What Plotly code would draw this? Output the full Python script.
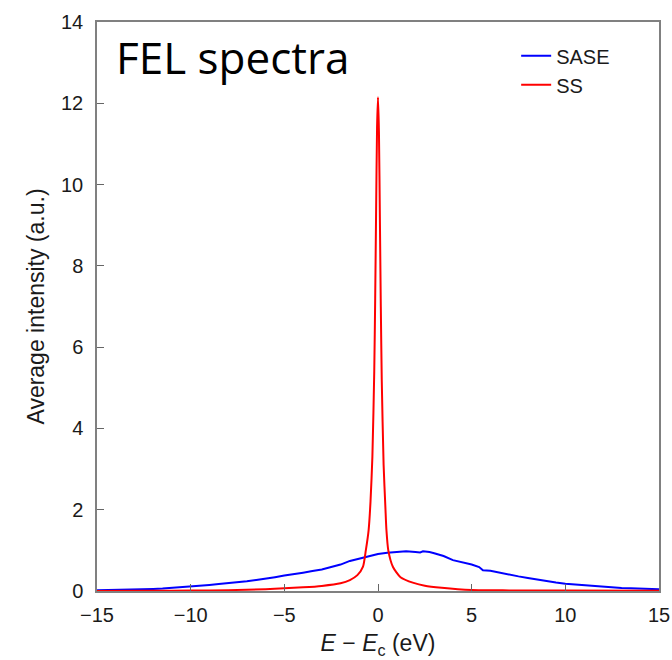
import plotly.graph_objects as go

# SASE spectrum (blue)
sase_x = [-15, -14.5, -14, -13.5, -13, -12.5, -12, -11.5, -11, -10.5, -10, -9.5, -9, -8.5, -8,
          -7.5, -7, -6.5, -6, -5.5, -5, -4.5, -4, -3.5, -3, -2.5, -2, -1.5, -1, -0.5, 0,
          0.5, 1, 1.5, 2, 2.25, 2.4, 2.75, 3, 3.5, 4, 4.5, 5, 5.4, 5.6, 6, 6.5, 7, 7.5, 8,
          8.5, 9, 9.5, 10, 10.5, 11, 11.5, 12, 12.5, 13, 13.5, 14, 14.5, 15]
sase_y = [0.02, 0.022, 0.025, 0.028, 0.032, 0.04, 0.05, 0.06, 0.075, 0.09, 0.11, 0.13, 0.15, 0.17, 0.19,
          0.21, 0.24, 0.27, 0.30, 0.34, 0.38, 0.41, 0.45, 0.49, 0.53, 0.59, 0.65, 0.74, 0.80, 0.86, 0.91,
          0.94, 0.96, 0.975, 0.96, 0.95, 0.975, 0.96, 0.93, 0.86, 0.76, 0.71, 0.65, 0.59, 0.51, 0.50, 0.45, 0.40, 0.36, 0.32,
          0.28, 0.24, 0.21, 0.18, 0.16, 0.14, 0.12, 0.105, 0.09, 0.075, 0.065, 0.055, 0.045, 0.04]

# Self-seeded spectrum (red)
ss_x = [-15, -12, -10, -8, -6, -5, -4, -3, -2, -1.5, -1.1, -0.8, -0.65, -0.5, -0.4, -0.3, -0.2, -0.15,
        -0.1, -0.05, 0, 0.05, 0.1, 0.15, 0.2, 0.3, 0.4, 0.45, 0.55, 0.8, 1.2, 1.9, 2.5, 3.4, 5, 7, 10, 15]
ss_y = [0.003, 0.006, 0.01, 0.02, 0.045, 0.065, 0.09, 0.125, 0.19, 0.27, 0.39, 0.6, 1.0, 1.5, 2.2, 3.3, 5.4, 7.2,
        9.4, 11.4, 12.15, 11.3, 9.2, 7.0, 5.2, 3.1, 2.0, 1.5, 1.0, 0.59, 0.34, 0.2, 0.13, 0.08, 0.025, 0.015, 0.01, 0.004]

x_ticks = [-15, -10, -5, 0, 5, 10, 15]
y_ticks = [0, 2, 4, 6, 8, 10, 12, 14]

fig = go.Figure()
fig.add_trace(go.Scatter(x=sase_x, y=sase_y, mode="lines", name="SASE",
                         line=dict(color="#0000ff", width=2)))
fig.add_trace(go.Scatter(x=ss_x, y=ss_y, mode="lines", name="SS",
                         line=dict(color="#ff0000", width=2, shape="spline", smoothing=0.6)))

tick_font = dict(family="Liberation Sans, Arial, sans-serif", size=20, color="#1a1a1a")
title_font = dict(family="Liberation Sans, Arial, sans-serif", size=23, color="#1a1a1a")

fig.update_layout(
    width=672, height=660,
    margin=dict(l=97, r=13, t=22, b=69, autoexpand=False),
    plot_bgcolor="white", paper_bgcolor="white",
    showlegend=True,
    legend=dict(x=0.922, y=0.975, xanchor="right", yanchor="top",
                font=dict(family="Liberation Sans, Arial, sans-serif", size=20, color="#1a1a1a"),
                bgcolor="rgba(0,0,0,0)", tracegroupgap=0),
    annotations=[dict(text="FEL spectra", xref="paper", yref="paper", x=0.03, y=0.995,
                      xanchor="left", yanchor="top", showarrow=False,
                      font=dict(family="Open Sans, Noto Sans, sans-serif", size=44, color="black"))],
)
fig.update_xaxes(range=[-15, 15], tickvals=x_ticks, ticks="inside", ticklen=7, tickcolor="#666",
                 showline=True, linecolor="#808080", linewidth=1.5, mirror=True, automargin=False,
                 showgrid=False, zeroline=False, tickfont=tick_font, ticklabelstandoff=5,
                 title=dict(text="<i>E</i> − <i>E</i><sub>c</sub> (eV)", font=title_font, standoff=10))
fig.update_yaxes(range=[0, 14], tickvals=y_ticks, ticks="inside", ticklen=7, tickcolor="#666",
                 showline=True, linecolor="#808080", linewidth=1.5, mirror=True, automargin=False,
                 showgrid=False, zeroline=False, tickfont=tick_font, ticklabelstandoff=8,
                 title=dict(text="Average intensity (a.u.)", font=title_font, standoff=10))

fig.write_html("out.html", config={"displayModeBar": False},
               post_script="document.body.style.margin='0';")
